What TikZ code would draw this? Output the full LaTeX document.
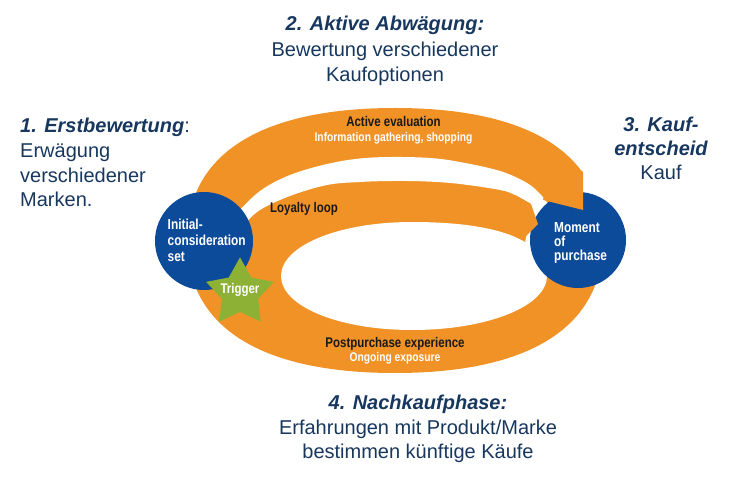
\documentclass[tikz,border=0pt]{standalone}
\usepackage{fontspec}
\setmainfont{Liberation Sans}
\newfontfamily\cond[FakeStretch=0.82]{Liberation Sans}
\definecolor{orng}{RGB}{240,146,38}
\definecolor{dblue}{RGB}{12,74,154}
\definecolor{sgreen}{RGB}{141,177,52}
\definecolor{navy}{RGB}{23,55,94}
\begin{document}
\begin{tikzpicture}[x=1pt,y=-1pt,
  head/.style={text=navy, inner sep=0, font=\fontsize{20}{24}\selectfont},
  headC/.style={head, anchor=base},
  headL/.style={head, anchor=base west},
  lab/.style={inner sep=0, anchor=base, text=black!90, font=\cond\bfseries\fontsize{14}{16}\selectfont},
  sublab/.style={inner sep=0, anchor=base, text=white, font=\cond\bfseries\fontsize{12.5}{14}\selectfont},
  circlab/.style={inner sep=0, anchor=base west, text=white, font=\cond\bfseries\fontsize{14.5}{16}\selectfont},
  bandfill/.style={fill=orng},
  gapfill/.style={fill=white}
]
\useasboundingbox (0,0) rectangle (749,502);

% outer orange ring body
\fill[bandfill] (187,240.5) .. controls (187,154.4) and (259.8,108) .. (395,108)
  .. controls (530.2,108) and (603,154.4) .. (603,240.5)
  .. controls (603,326.6) and (530.2,373) .. (395,373)
  .. controls (259.8,373) and (187,326.6) .. (187,240.5) -- cycle;

% white gap between active evaluation band and loyalty loop
\fill[gapfill] plot[smooth, tension=0.6] coordinates {(236,214) (260,191) (290,175) (327,164) (360,158.5) (393,157) (430,158) (460,162) (500,171) (527,183) (542,196) (552,210)}
  -- (562,222) -- (555,255) -- (524,250) -- (531,204)
  -- plot[smooth, tension=0.6] coordinates {(531,204) (515,195) (500,190) (460,184) (427,181.5) (393,181) (360,182) (327,185) (290,196) (260,210) (244,225) (236,236)}
  -- cycle;

% inner white region
\fill[gapfill] (412,222) .. controls (499.75,222) and (547,240.9) .. (547,276)
  .. controls (547,306.2) and (487.6,330) .. (412,330)
  .. controls (338.6,330) and (281,306.2) .. (281,276)
  .. controls (281,245.8) and (338.6,222) .. (412,222) -- cycle;

% cut at the arrow end of the active band
\fill[gapfill] (583,140) rectangle (620,215);

% circles
\node[circle, fill=dblue, minimum size=98pt, inner sep=0] (ics) at (204,241) {};
\node[circle, fill=dblue, minimum size=96pt, inner sep=0] (mop) at (578,240) {};

% arrow ends drawn over the purchase circle
\fill[bandfill] (548,178) -- (560,155) -- (583,172) -- (583,210) -- (543,200) -- cycle;
\fill[bandfill] (495,205) -- (515,195) -- (531,204) -- (538,224) -- (522,240) -- (500,228) -- cycle;

% trigger star
\fill[sgreen] (240,257.3) -- (251.2,277.5) -- (273.9,281.9) -- (258.1,298.8) -- (260.9,321.7)
  -- (240,311.9) -- (219.1,321.7) -- (221.9,298.8) -- (206.1,281.9) -- (228.8,277.5) -- cycle;
\node[inner sep=0, anchor=base, text=white, font=\cond\bfseries\fontsize{14}{16}\selectfont] (trig) at (240,294) {Trigger};

% labels in the loop
\node[lab] (ae) at (393.5,127) {Active evaluation};
\node[sublab] (ig) at (393.5,141.5) {Information gathering, shopping};
\node[lab, anchor=base west] (ll) at (270,213) {Loyalty loop};
\node[lab] (pe) at (395,348) {Postpurchase experience};
\node[sublab] (oe) at (395,361.5) {Ongoing exposure};

\node[circlab] (ics1) at (167.5,230) {Initial-};
\node[circlab] (ics2) at (167.5,246) {consideration};
\node[circlab] (ics3) at (167.5,262) {set};

\node[circlab] (mop1) at (554,233) {Moment};
\node[circlab] (mop2) at (554,247) {of};
\node[circlab] (mop3) at (554,261) {purchase};

% outside headings
\node[headL] (h1a) at (20,133) {{\bfseries\itshape 1. Erstbewertung}:};
\node[headL] (h1b) at (20,158) {Erwägung};
\node[headL] (h1c) at (20,183) {verschiedener};
\node[headL] (h1d) at (20,207) {Marken.};

\node[headC] (h2a) at (385,31) {\bfseries\itshape 2. Aktive Abwägung:};
\node[headC] (h2b) at (385,57) {Bewertung verschiedener};
\node[headC] (h2c) at (385,82) {Kaufoptionen};

\node[headC] (h3a) at (661,132) {\bfseries\itshape 3. Kauf-};
\node[headC] (h3b) at (661,156) {\bfseries\itshape entscheid};
\node[headC] (h3c) at (661,180) {Kauf};

\node[headC] (h4a) at (418,409) {\bfseries\itshape 4. Nachkaufphase:};
\node[headC] (h4b) at (418,434) {Erfahrungen mit Produkt/Marke};
\node[headC] (h4c) at (418,458) {bestimmen künftige Käufe};
\end{tikzpicture}
\end{document}
